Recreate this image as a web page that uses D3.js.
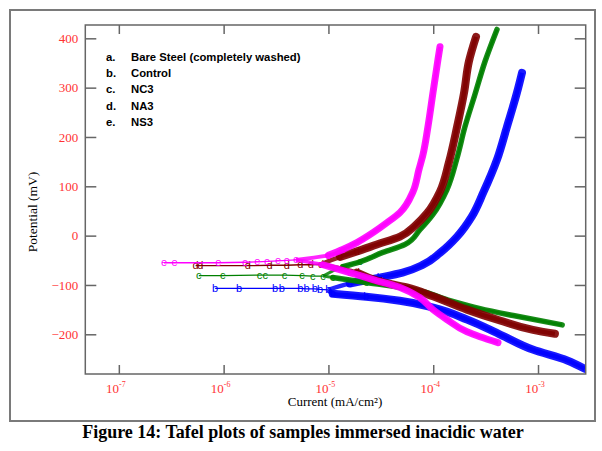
<!DOCTYPE html>
<html>
<head>
<meta charset="utf-8">
<script src="https://cdn.jsdelivr.net/npm/d3@7"></script>
<style>
body { margin: 0; background: #fff; }
</style>
</head>
<body>
<svg id="svg" width="602" height="451"></svg>
<script>
var svg = d3.select("#svg");

// axis ticks and labels
var xTicks = [1e-7, 1e-6, 1e-5, 1e-4, 1e-3];
var xExp = ["-7", "-6", "-5", "-4", "-3"];
var yTicks = [-200, -100, 0, 100, 200, 300, 400];
var xMin = Math.pow(10, -7.32), xMax = Math.pow(10, -2.545);
var yMin = -280.5, yMax = 427;

// legend
var legendKeys = ["a.", "b.", "c.", "d.", "e."];
var legendNames = ["Bare Steel (completely washed)", "Control", "NC3", "NA3", "NS3"];

// [current mA/cm2, potential mV]
// b - Control
var bLow = [[8.3e-7,-107],[1.4e-6,-107],[3.1e-6,-107],[3.6e-6,-107],[5.4e-6,-107],[6.2e-6,-108],[7.4e-6,-108],[8.3e-6,-109],[1.0e-5,-110]];
var bAnodic = [[1.6e-5,-97],[3.1e-5,-85],[5.1e-5,-75],[8.0e-5,-59],[1.16e-4,-35],[1.69e-4,-2],[2.34e-4,39],[3.0e-4,87],[4.06e-4,154],[5.06e-4,221],[6.3e-4,290],[7.03e-4,330]];
var bCathodic = [[1.1e-5,-118],[2.3e-5,-124],[4.8e-5,-132],[1.0e-4,-146],[2.1e-4,-170],[4.4e-4,-201],[8.9e-4,-231],[1.9e-3,-253],[2.8e-3,-270]];

// c - NC3
var cLow = [[5.8e-7,-81],[9.8e-7,-81],[2.2e-6,-80],[2.5e-6,-80],[3.8e-6,-80],[5.6e-6,-81],[7.1e-6,-82],[8.9e-6,-82]];
var cAnodic = [[1.37e-5,-63],[2.0e-5,-53],[3.31e-5,-34],[5.37e-5,-18],[7.47e-5,12],[9.95e-5,43],[1.35e-4,93],[1.69e-4,158],[2.01e-4,221],[2.5e-4,286],[3.12e-4,353],[4.06e-4,418]];
var cCathodic = [[1.1e-5,-85],[2.3e-5,-95],[6.5e-5,-109],[1.35e-4,-130],[2.8e-4,-148],[5.8e-4,-162],[1.7e-3,-181]];

// d - NA3
var dLow = [[5.4e-7,-61],[6.0e-7,-61],[1.7e-6,-61],[2.75e-6,-60],[4.0e-6,-60],[5.4e-6,-59],[6.8e-6,-59],[8.5e-6,-58]];
var dAnodic = [[1.29e-5,-43],[1.87e-5,-32],[2.9e-5,-18],[4.82e-5,-2],[6.7e-5,20],[8.71e-5,45],[1.16e-4,89],[1.41e-4,148],[1.69e-4,221],[1.97e-4,290],[2.19e-4,353],[2.56e-4,403]];
var dCathodic = [[1.87e-5,-75],[3.1e-5,-93],[5.6e-5,-105],[9.95e-5,-123],[2.1e-4,-150],[4.33e-4,-172],[8.95e-4,-191],[1.45e-3,-199]];

// e - NS3
var eLow = [[2.7e-7,-55],[3.4e-7,-55],[8.9e-7,-55],[1.6e-6,-54],[2.1e-6,-53],[2.6e-6,-52],[3.3e-6,-51],[4.0e-6,-50],[4.9e-6,-49]];
var eAnodic = [[1.0e-5,-40],[1.37e-5,-28],[1.87e-5,-14],[2.66e-5,6],[3.61e-5,26],[4.82e-5,47],[6.41e-5,89],[7.31e-5,134],[7.98e-5,164],[8.91e-5,221],[9.95e-5,290],[1.11e-4,357],[1.16e-4,383]];
var eCathodic = [[8.85e-6,-59],[1.6e-5,-75],[2.66e-5,-89],[4.82e-5,-105],[7.47e-5,-126],[9.95e-5,-150],[1.35e-4,-170],[2.1e-4,-195],[2.79e-4,-205],[4.15e-4,-217]];

var marks = ["b", "c", "d", "e"];
var colors = ["#0000ff", "#008000", "#800000", "#ff00ff"];
var series = [
  {mark: marks[0], color: colors[0], low: bLow, an: bAnodic, ca: bCathodic},
  {mark: marks[1], color: colors[1], low: cLow, an: cAnodic, ca: cCathodic},
  {mark: marks[2], color: colors[2], low: dLow, an: dAnodic, ca: dCathodic},
  {mark: marks[3], color: colors[3], low: eLow, an: eAnodic, ca: eCathodic}
];
var bandW = [8, 5.5, 8, 7];

// plot box
var pLeft = 85.3, pRight = 585.7, pTop = 25, pBottom = 374;
var x = d3.scaleLog().domain([xMin, xMax]).range([pLeft, pRight]);
var y = d3.scaleLinear().domain([yMin, yMax]).range([pBottom, pTop]);

// outer frame
svg.append("rect")
  .attr("x", 10).attr("y", 10)
  .attr("width", 585).attr("height", 411)
  .attr("fill", "none").attr("stroke", "#7a7a7a").attr("stroke-width", 2);

svg.append("clipPath").attr("id", "clip")
  .append("rect").attr("x", pLeft).attr("y", pTop)
  .attr("width", pRight - pLeft).attr("height", pBottom - pTop);

// curves (potential is monotone along each branch)
var smooth = d3.line().x(function(d){return x(d[0]);}).y(function(d){return y(d[1]);}).curve(d3.curveMonotoneY);
var straight = d3.line().x(function(d){return x(d[0]);}).y(function(d){return y(d[1]);});

series.forEach(function(s, i){
  var g = svg.append("g").attr("clip-path", "url(#clip)");
  var start = s.low[s.low.length - 1];
  // thin line through the low current points
  g.append("path").datum(s.low)
    .attr("d", straight)
    .attr("fill", "none").attr("stroke", s.color).attr("stroke-width", 1.3);
  // branches, thinner at first, thick where the points pile up
  [s.an, s.ca].forEach(function(br){
    g.append("path").datum([start].concat(br))
      .attr("d", smooth)
      .attr("fill", "none").attr("stroke", s.color).attr("stroke-width", bandW[i] * 0.55)
      .attr("stroke-opacity", 0.85);
    g.append("path").datum(br)
      .attr("d", smooth)
      .attr("fill", "none").attr("stroke", s.color).attr("stroke-width", bandW[i])
      .attr("stroke-opacity", 0.9)
      .attr("stroke-linecap", "round");
  });
  // letter markers
  g.selectAll("text.m").data(s.low.concat(s.an.slice(0, 2), s.ca.slice(0, 2))).enter()
    .append("text")
    .attr("x", function(d){return x(d[0]);})
    .attr("y", function(d){return y(d[1]) + 3.5;})
    .attr("text-anchor", "middle")
    .attr("font-family", "Liberation Sans, Arial, sans-serif")
    .attr("font-size", 11)
    .attr("fill", s.color)
    .text(s.mark);
});

// ticks, inside on all four sides
var tickCol = "#666";
var gx = svg.append("g").attr("transform", "translate(0," + pBottom + ")")
  .call(d3.axisBottom(x).tickValues(xTicks).tickSize(-9).tickSizeOuter(0).tickFormat(""));
var gxt = svg.append("g").attr("transform", "translate(0," + pTop + ")")
  .call(d3.axisTop(x).tickValues(xTicks).tickSize(-9).tickSizeOuter(0).tickFormat(""));
var gy = svg.append("g").attr("transform", "translate(" + pLeft + ",0)")
  .call(d3.axisLeft(y).tickValues(yTicks).tickSize(-11).tickSizeOuter(0).tickPadding(7));
var gyr = svg.append("g").attr("transform", "translate(" + pRight + ",0)")
  .call(d3.axisRight(y).tickValues(yTicks).tickSize(-11).tickSizeOuter(0).tickFormat(""));
[gx, gxt, gy, gyr].forEach(function(a){
  a.select(".domain").remove();
  a.selectAll("line").attr("stroke", tickCol).attr("stroke-width", 1.5);
});
gy.selectAll("text")
  .attr("font-family", "Liberation Serif, Times New Roman, serif")
  .attr("font-size", 13)
  .attr("fill", "#ff3333");

// plot frame
svg.append("rect")
  .attr("x", pLeft).attr("y", pTop)
  .attr("width", pRight - pLeft).attr("height", pBottom - pTop)
  .attr("fill", "none").attr("stroke", tickCol).attr("stroke-width", 1.5);

// x tick labels, 10 with superscript
var xl = svg.selectAll("text.xl").data(xTicks).enter()
  .append("text")
  .attr("x", function(d){return x(d) - 3;})
  .attr("y", 393)
  .attr("text-anchor", "middle")
  .attr("font-family", "Liberation Serif, Times New Roman, serif")
  .attr("font-size", 13)
  .attr("fill", "#ff3333");
xl.append("tspan").text("10");
xl.append("tspan").attr("dy", -6).attr("font-size", 8).text(function(d, i){return xExp[i];});

// axis titles
svg.append("text")
  .attr("x", 335).attr("y", 406)
  .attr("text-anchor", "middle")
  .attr("font-family", "Liberation Serif, Times New Roman, serif")
  .attr("font-size", 13)
  .text("Current (mA/cm²)");
svg.append("text")
  .attr("transform", "translate(37,212) rotate(-90)")
  .attr("text-anchor", "middle")
  .attr("font-family", "Liberation Serif, Times New Roman, serif")
  .attr("font-size", 13.5)
  .text("Potential (mV)");

// legend
var lg = svg.selectAll("g.lg").data(legendNames).enter()
  .append("g")
  .attr("transform", function(d, i){return "translate(0," + (61 + i * 16.2) + ")";});
lg.append("text")
  .attr("x", 106)
  .attr("font-family", "Liberation Sans, Arial, sans-serif")
  .attr("font-weight", "bold").attr("font-size", 11.3)
  .text(function(d, i){return legendKeys[i];});
lg.append("text")
  .attr("x", 131)
  .attr("font-family", "Liberation Sans, Arial, sans-serif")
  .attr("font-weight", "bold").attr("font-size", 11.3)
  .text(function(d){return d;});

// caption
svg.append("text")
  .attr("x", 303).attr("y", 438)
  .attr("text-anchor", "middle")
  .attr("font-family", "Liberation Serif, Times New Roman, serif")
  .attr("font-weight", "bold").attr("font-size", 18)
  .text("Figure 14: Tafel plots of samples immersed inacidic water");
</script>
</body>
</html>
